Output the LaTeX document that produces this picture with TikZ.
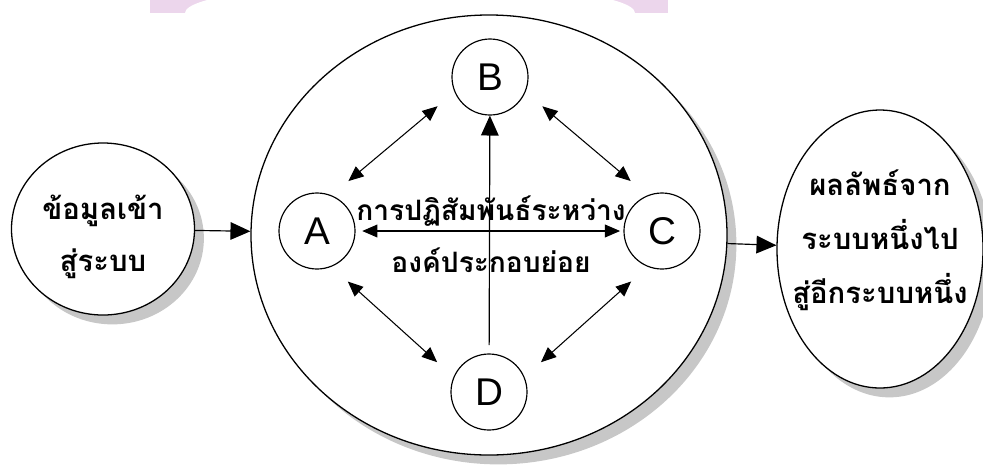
\documentclass[tikz,border=0pt]{standalone}
\usepackage{fontspec}
\newfontfamily\thaifont[Script=Thai]{Loma}
\setsansfont{Liberation Sans}
\usetikzlibrary{arrows.meta,shapes.geometric,shadows}
\definecolor{wmpink}{RGB}{236,214,236}

\begin{document}
\begin{tikzpicture}[x=0.03cm,y=-0.03cm,
    thaitext/.style={font=\thaifont\bfseries\fontsize{25}{44}\selectfont, align=center},
    sysshape/.style={ellipse, draw, line width=1.1pt, fill=white, inner sep=0pt,
      drop shadow={shadow xshift=8pt, shadow yshift=-8pt, fill=black!22, opacity=1}},
    part/.style={circle, draw, line width=1pt, fill=white, inner sep=0pt,
      minimum size=2.28cm, font=\sffamily\fontsize{33}{33}\selectfont},
    flow/.style={line width=1pt, -{Triangle[length=17pt,width=15pt]}},
    link/.style={line width=0.9pt, {Triangle[length=13pt,width=11pt]}-{Triangle[length=13pt,width=11pt]}}]
    \useasboundingbox (0,0) rectangle (983,465);
    % watermark at the top
    \fill[wmpink] (150,0) rectangle (668,13);
    \fill[white] (410,13) ellipse [x radius=225, y radius=30];

    \node[sysshape, minimum width=5.49cm, minimum height=5.16cm] (input) at (103,229) {};
    \node[sysshape, minimum width=14.28cm, minimum height=13.2cm] (system) at (489,235) {};
    \node[sysshape, minimum width=6.18cm, minimum height=8.34cm] (output) at (880,249) {};
    \node[thaitext] (inputtext) at (103,237) {ข้อมูลเข้า\\สู่ระบบ};
    \node[thaitext, font=\thaifont\bfseries\fontsize{25}{46}\selectfont] (outputtext) at (880,240) {ผลลัพธ์จาก\\ระบบหนึ่งไป\\สู่อีกระบบหนึ่ง};

    \node[part] (A) at (317,231) {A};
    \node[part] (B) at (490,77) {B};
    \node[part] (C) at (662,231) {C};
    \node[part] (D) at (489,392) {D};
    \node[thaitext, font=\thaifont\bfseries\fontsize{24}{44}\selectfont] (interact) at (491,234) {การปฏิสัมพันธ์ระหว่าง\\องค์ประกอบย่อย};

    \draw[flow] (input) -- (system);
    \draw[flow] (system) -- (output);
    \draw[flow, shorten <=0.25cm] (D) -- (B);
    \draw[link, shorten <=0.2cm, shorten >=0.1cm] (A) -- (C);
    \draw[link, shorten <=0.66cm, shorten >=0.66cm] (A.68) -- (B.203);
    \draw[link, shorten <=0.66cm, shorten >=0.66cm] (B.337) -- (C.112);
    \draw[link, shorten <=0.66cm, shorten >=0.66cm] (A.292) -- (D.157);
    \draw[link, shorten <=0.66cm, shorten >=0.66cm] (C.248) -- (D.23);
\end{tikzpicture}
\end{document}
